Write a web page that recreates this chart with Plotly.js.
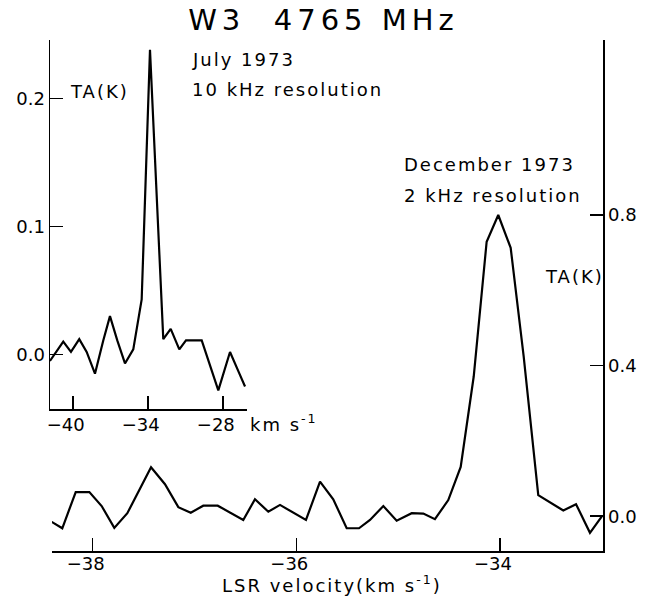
<!DOCTYPE html>
<html><head><meta charset="utf-8">
<script src="https://cdn.plot.ly/plotly-3.0.1.min.js"></script>
<style>
html,body{margin:0;padding:0;background:#fff}
#chart{width:650px;height:603px}
.annotation-text{letter-spacing:2px}
.gtitle{letter-spacing:5px}
</style></head><body><div id="chart"></div>
<script>
// December 1973, 2 kHz resolution (main plot)
const decVelocity = [-38.403,-38.299,-38.167,-38.033,-37.912,-37.788,-37.660,-37.552,-37.427,-37.290,
  -37.159,-37.037,-36.914,-36.772,-36.651,-36.521,-36.406,-36.275,-36.160,-36.029,
  -35.905,-35.767,-35.637,-35.505,-35.384,-35.276,-35.145,-35.014,-34.866,-34.752,
  -34.638,-34.507,-34.385,-34.257,-34.130,-34.016,-33.894,-33.766,-33.623,-33.377,
  -33.252,-33.115,-33.000];
const decTA = [-0.015,-0.032,0.064,0.064,0.027,-0.031,0.008,0.065,0.130,0.085,
  0.024,0.009,0.028,0.028,0.009,-0.010,0.045,0.012,0.030,0.009,
  -0.010,0.092,0.045,-0.032,-0.032,-0.010,0.027,-0.012,0.008,0.007,
  -0.008,0.043,0.131,0.371,0.729,0.800,0.713,0.424,0.056,0.015,
  0.032,-0.044,-0.001];
// July 1973, 10 kHz resolution (inset)
const julVelocity = [-41.824,-40.76,-40.144,-39.48,-38.888,-38.224,-37.56,-37.024,-36.44,-35.824,
  -35.16,-34.488,-33.824,-32.76,-32.168,-31.48,-30.944,-29.688,-28.36,-27.424,-26.76,-26.224];
const julTA = [-0.005,0.010,0.002,0.012,0.002,-0.015,0.011,0.030,0.011,-0.007,
  0.004,0.043,0.238,0.012,0.020,0.004,0.011,0.011,-0.028,0.002,-0.013,-0.025];

const mainXTicks = [-38,-36,-34];
const mainYTicks = [0,0.4,0.8];
const insetXTicks = [-40,-34,-28];
const insetYTicks = [0,0.1,0.2];

const W = 650, H = 603;
const fx = p => p / W;
const fy = p => 1 - p / H;
const FONT = 'DejaVu Sans';

const lineStyle = {color:'#000', width:2.2};
const traces = [
  {x:decVelocity, y:decTA, type:'scatter', mode:'lines', line:lineStyle, xaxis:'x', yaxis:'y', hoverinfo:'skip', cliponaxis:false},
  {x:julVelocity, y:julTA, type:'scatter', mode:'lines', line:lineStyle, xaxis:'x2', yaxis:'y2', hoverinfo:'skip', cliponaxis:false}
];

const axCommon = {showgrid:false, zeroline:false, showline:true, linecolor:'#000', linewidth:1.5,
  ticks:'inside', ticklen:13, tickwidth:1.5, tickcolor:'#000',
  tickfont:{family:FONT, size:18, color:'#000'}, fixedrange:true};

const ann = (text, x, y, xanchor) => ({text, x:fx(x), y:fy(y), xref:'paper', yref:'paper',
  xanchor:xanchor||'left', yanchor:'middle', showarrow:false, font:{family:FONT, size:18, color:'#000'}});

const layout = {
  width:W, height:H, margin:{l:0,r:0,t:0,b:0},
  paper_bgcolor:'#fff', plot_bgcolor:'rgba(0,0,0,0)', showlegend:false,
  title:{text:'W3\u00a0\u00a04765 MHz', x:fx(323.5), xanchor:'center', y:fy(20), yanchor:'middle',
    font:{family:FONT, size:29, color:'#000'}},
  xaxis: Object.assign({}, axCommon, {domain:[fx(52), fx(603)], range:[-38.40, -32.987], anchor:'y',
    tickvals:mainXTicks, tickformat:'d', ticklabelshift:-7, ticklabelstandoff:-4}),
  yaxis: Object.assign({}, axCommon, {domain:[fy(551), fy(40)], range:[-0.0924, 1.2648], anchor:'x',
    side:'right', tickvals:mainYTicks, tickformat:'.1f'}),
  xaxis2: Object.assign({}, axCommon, {domain:[fx(50), fx(246.7)], range:[-41.82, -26.09], anchor:'y2',
    tickvals:insetXTicks, tickformat:'d', ticklabelshift:-7, ticklabelstandoff:-1}),
  yaxis2: Object.assign({}, axCommon, {domain:[fy(409.3), fy(40)], range:[-0.0428, 0.2457], anchor:'x2',
    side:'left', tickvals:insetYTicks, tickformat:'.1f'}),
  annotations:[
    ann('July 1973', 190, 60),
    ann('10 kHz resolution', 190, 90),
    ann('TA(K)', 68, 92),
    ann('December 1973', 401.7, 165),
    ann('2 kHz resolution', 401.7, 195.5),
    ann('TA(K)', 543, 276.5),
    ann('km s<sup>-1</sup>', 248, 423),
    ann('LSR velocity(km s<sup>-1</sup>)', 220, 584)
  ]
};

Plotly.newPlot('chart', traces, layout, {staticPlot:true, displayModeBar:false});
</script></body></html>
